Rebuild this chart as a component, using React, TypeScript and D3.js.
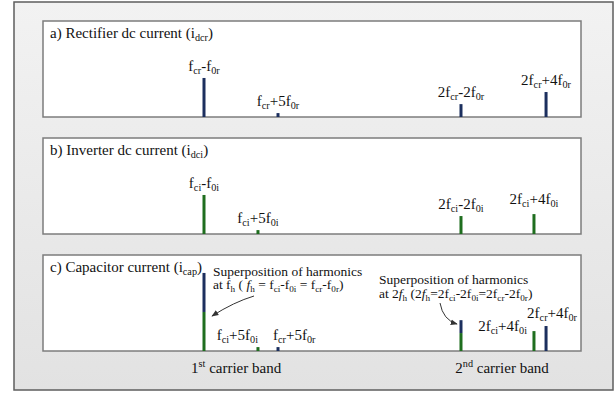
import React from "react";
import * as d3 from "d3";

const W = 616;
const H = 393;

// Harmonic frequencies, normalised to the carrier frequency (f / fc)
const rectFreq = [1.0, 1.288, 2.0, 2.331];
const rectAmp = [1.0, 0.1, 0.33, 0.64];
const rectLabels = ["f_{cr}-f_{0r}", "f_{cr}+5f_{0r}", "2f_{cr}-2f_{0r}", "2f_{cr}+4f_{0r}"];

const invFreq = [1.0, 1.21, 2.0, 2.284];
const invAmp = [1.0, 0.1, 0.46, 0.51];
const invLabels = ["f_{ci}-f_{0i}", "f_{ci}+5f_{0i}", "2f_{ci}-2f_{0i}", "2f_{ci}+4f_{0i}"];

const panelTitles = [
  "a) Rectifier dc current (i_{dcr})",
  "b) Inverter dc current (i_{dci})",
  "c) Capacitor current (i_{cap})",
];

const bandLabels = ["1^{st} carrier band", "2^{nd} carrier band"];
const bandCenters = [1.125, 2.16];

const noteFirst = ["Superposition of harmonics", "at f_{h} ( *{f}_{h} = f_{ci}-f_{0i} = f_{cr}-f_{0r})"];
const noteSecond = ["Superposition of harmonics", "at 2*{f}_{h} (2*{f}_{h}=2f_{ci}-2f_{0i}=2f_{cr}-2f_{0r})"];

// Layout
const PANEL_LEFT = 43;
const PANEL_RIGHT = 581;
const PANEL_TOPS = [21, 138, 255];
const PANEL_H = 96;
const BAR_W = 3;
const BLUE = "#1c2f5e";
const GREEN = "#1f6e1f";
const FONT = "Liberation Serif";

const x = d3.scaleLinear().domain([0.3735, 2.467]).range([PANEL_LEFT, PANEL_RIGHT]);
const h = d3.scaleLinear().domain([0, 2.46]).range([0, PANEL_H]);

type Seg = { t: string; kind: "n" | "sub" | "sup" | "it" };

function parse(s: string): Seg[] {
  const parts = s.split(/(_\{[^}]*\}|\^\{[^}]*\}|\*\{[^}]*\})/).filter((p) => p.length);
  return parts.map((p) => {
    if (p.startsWith("_{")) return { t: p.slice(2, -1), kind: "sub" };
    if (p.startsWith("^{")) return { t: p.slice(2, -1), kind: "sup" };
    if (p.startsWith("*{")) return { t: p.slice(2, -1), kind: "it" };
    return { t: p, kind: "n" };
  });
}

let ctx: CanvasRenderingContext2D | null = null;
function measure(t: string, size: number, italic: boolean): number {
  if (!ctx) ctx = document.createElement("canvas").getContext("2d");
  if (!ctx) return t.length * size * 0.45;
  ctx.font = `${italic ? "italic " : ""}${size}px "${FONT}"`;
  return ctx.measureText(t).width;
}

// Draws formula-like text (subscripts, superscripts, italics) as a row of text runs
function Rich({ text, px, py, size, anchor = "start" }: { text: string; px: number; py: number; size: number; anchor?: string }) {
  const segs = parse(text);
  const small = size * 0.68;
  const runs = segs.map((s) => {
    const sz = s.kind === "sub" || s.kind === "sup" ? small : size;
    const italic = s.kind === "it";
    const off = s.kind === "sub" ? size * 0.2 : s.kind === "sup" ? -size * 0.38 : 0;
    return { ...s, sz, italic, off, w: measure(s.t, sz, italic) };
  });
  const total = d3.sum(runs, (r) => r.w);
  let cx = anchor === "middle" ? px - total / 2 : anchor === "end" ? px - total : px;
  return (
    <g>
      {runs.map((r, i) => {
        const el = (
          <text
            key={i}
            x={cx}
            y={py + r.off}
            fontSize={r.sz}
            fontFamily={FONT}
            fontStyle={r.italic ? "italic" : undefined}
            fill="#111"
            style={{ whiteSpace: "pre" }}
          >
            {r.t}
          </text>
        );
        cx += r.w;
        return el;
      })}
    </g>
  );
}

type Bar = { f: number; y0: number; y1: number; color: string };

function barsFor(freq: number[], amp: number[], color: string): Bar[] {
  return freq.map((f, i) => ({ f, y0: 0, y1: amp[i], color }));
}

// Capacitor current: inverter components at the bottom, rectifier components stacked on top where frequencies coincide
const capBars: Bar[] = (() => {
  const inv = barsFor(invFreq, invAmp, GREEN);
  const base = new Map(inv.map((b) => [b.f, b.y1]));
  const rect = rectFreq.map((f, i) => {
    const b0 = base.get(f) ?? 0;
    return { f, y0: b0, y1: b0 + rectAmp[i], color: BLUE };
  });
  return [...inv, ...rect];
})();

const panelBars: Bar[][] = [barsFor(rectFreq, rectAmp, BLUE), barsFor(invFreq, invAmp, GREEN), capBars];

// Label placements for the capacitor-current panel sidebands
const capLabels = [
  { text: invLabels[1], f: invFreq[1], amp: invAmp[1], anchor: "end", dx: 0, dy: -7 },
  { text: rectLabels[1], f: rectFreq[1], amp: rectAmp[1], anchor: "start", dx: -5, dy: -7 },
  { text: invLabels[3], f: invFreq[3], amp: invAmp[3], anchor: "end", dx: -7, dy: 0 },
  { text: rectLabels[3], f: rectFreq[3], amp: rectAmp[3], anchor: "middle", dx: 6, dy: -8 },
];

export default function App() {
  const bottom = (p: number) => PANEL_TOPS[p] + PANEL_H;
  return (
    <svg
      width={W}
      height={H}
      viewBox={`0 0 ${W} ${H}`}
      style={{ position: "absolute", left: 0, top: 0, background: "#fff" }}
    >
      <defs>
        <linearGradient id="bg" x1="0" y1="0" x2="0" y2="1">
          <stop offset="0" stopColor="#f2f2f2" />
          <stop offset="1" stopColor="#e2e2e2" />
        </linearGradient>
        <marker id="arrow" viewBox="0 0 10 10" refX="9" refY="5" markerWidth="7" markerHeight="7" orient="auto">
          <path d="M0,1 L10,5 L0,9 Z" fill="#333" />
        </marker>
      </defs>

      <rect x={14} y={2} width={599} height={388} fill="url(#bg)" stroke="#5e5e5e" strokeWidth={1.5} />

      {PANEL_TOPS.map((top, p) => (
        <g key={p}>
          <rect
            x={PANEL_LEFT}
            y={top}
            width={PANEL_RIGHT - PANEL_LEFT}
            height={PANEL_H}
            fill="#fff"
            stroke="#7c7c7c"
            strokeWidth={1.5}
          />
          <Rich text={panelTitles[p]} px={50} py={top + 17} size={15} />
          {panelBars[p].map((b, i) => (
            <rect
              key={i}
              x={x(b.f) - BAR_W / 2}
              y={bottom(p) - h(b.y1)}
              width={BAR_W}
              height={h(b.y1) - h(b.y0)}
              fill={b.color}
            />
          ))}
        </g>
      ))}

      {rectFreq.map((f, i) => (
        <Rich key={"ra" + i} text={rectLabels[i]} px={x(f)} py={bottom(0) - h(rectAmp[i]) - 7} size={15} anchor="middle" />
      ))}
      {invFreq.map((f, i) => (
        <Rich
          key={"ib" + i}
          text={invLabels[i]}
          px={x(f)}
          py={bottom(1) - h(invAmp[i]) - (i === 3 ? 10 : 7)}
          size={15}
          anchor="middle"
        />
      ))}
      {capLabels.map((l, i) => (
        <Rich
          key={"cl" + i}
          text={l.text}
          px={x(l.f) + l.dx}
          py={bottom(2) - h(l.amp) + l.dy}
          size={15}
          anchor={l.anchor}
        />
      ))}

      <Rich text={noteFirst[0]} px={213} py={276} size={13.5} />
      <Rich text={noteFirst[1]} px={213} py={289} size={13.5} />
      <Rich text={noteSecond[0]} px={379} py={284} size={13.5} />
      <Rich text={noteSecond[1]} px={379} py={298} size={13.5} />

      <path d="M254,296 Q234,302 212,316" fill="none" stroke="#333" strokeWidth={1} markerEnd="url(#arrow)" />
      <path d="M440,303 Q443,320 457,324" fill="none" stroke="#333" strokeWidth={1} markerEnd="url(#arrow)" />

      {bandLabels.map((t, i) => (
        <Rich key={"bl" + i} text={t} px={x(bandCenters[i])} py={373} size={15} anchor="middle" />
      ))}
    </svg>
  );
}
